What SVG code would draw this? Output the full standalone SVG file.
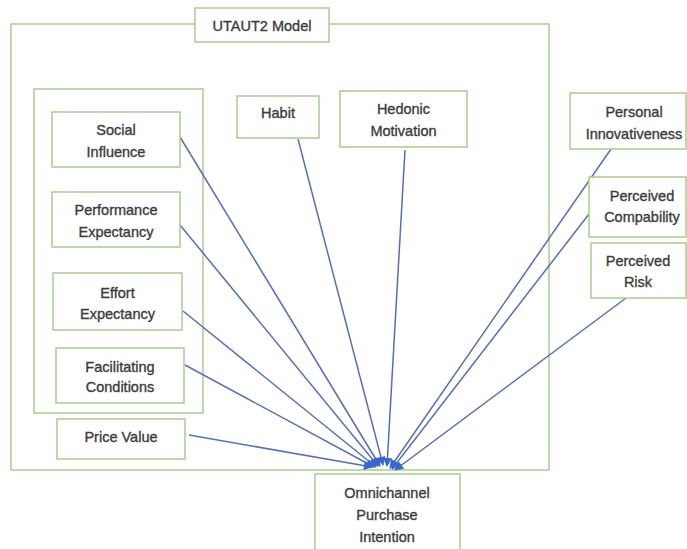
<svg xmlns="http://www.w3.org/2000/svg" width="687" height="549" viewBox="0 0 687 549">
<defs>
<marker id="ah" viewBox="0 0 10 10" refX="9" refY="5" markerWidth="7" markerHeight="6" orient="auto" markerUnits="strokeWidth">
<path d="M0,0 L10,5 L0,10 z" fill="#3a68c8"/>
</marker>
<style>
.box{fill:#ffffff;stroke:#a9cc94;stroke-width:1.5}
.frame{fill:none;stroke:#a9cc94;stroke-width:1.5}
.t{font-family:"Liberation Sans",Arial,sans-serif;font-size:14.5px;fill:#3c3c3c;stroke:#3c3c3c;stroke-width:0.35;text-anchor:middle}
.c{fill:none;stroke:#5670b2;stroke-width:1.5;marker-end:url(#ah)}
</style>
</defs>
<rect width="687" height="549" fill="#ffffff"/>
<g id="utaut2-frame">
<rect class="frame" x="11" y="24" width="538" height="446"/>
<rect class="box" x="195" y="8" width="134" height="34"/>
<text class="t" x="262" y="31">UTAUT2 Model</text>
</g>
<g id="core-group">
<rect class="frame" x="34" y="89" width="169" height="324"/>
</g>
<g id="connectors">
<line class="c" x1="180" y1="137" x2="380" y2="466"/>
<line class="c" x1="180" y1="225" x2="378" y2="466"/>
<line class="c" x1="183" y1="311" x2="376" y2="467"/>
<line class="c" x1="185" y1="365" x2="374" y2="467"/>
<line class="c" x1="189" y1="435" x2="372" y2="467"/>
<line class="c" x1="298" y1="139" x2="383" y2="465"/>
<line class="c" x1="405" y1="150" x2="387" y2="466"/>
<line class="c" x1="611" y1="149" x2="390" y2="468"/>
<line class="c" x1="589" y1="214" x2="392" y2="469"/>
<line class="c" x1="626" y1="298" x2="395" y2="470"/>
</g>
<g id="social-influence">
<rect class="box" x="52" y="112" width="128" height="55"/>
<text class="t" x="116" y="135">Social</text>
<text class="t" x="116" y="157">Influence</text>
</g>
<g id="performance-expectancy">
<rect class="box" x="52" y="192" width="128" height="55"/>
<text class="t" x="116" y="215">Performance</text>
<text class="t" x="116" y="237">Expectancy</text>
</g>
<g id="effort-expectancy">
<rect class="box" x="53" y="273" width="129" height="57"/>
<text class="t" x="117.5" y="298">Effort</text>
<text class="t" x="117.5" y="319">Expectancy</text>
</g>
<g id="facilitating-conditions">
<rect class="box" x="56" y="348" width="128" height="55"/>
<text class="t" x="120" y="372">Facilitating</text>
<text class="t" x="120" y="392">Conditions</text>
</g>
<g id="price-value">
<rect class="box" x="57" y="419" width="128" height="40"/>
<text class="t" x="121" y="442">Price Value</text>
</g>
<g id="habit">
<rect class="box" x="237" y="96" width="82" height="42"/>
<text class="t" x="278" y="118">Habit</text>
</g>
<g id="hedonic-motivation">
<rect class="box" x="340" y="91" width="127" height="56"/>
<text class="t" x="403.5" y="114">Hedonic</text>
<text class="t" x="403.5" y="136">Motivation</text>
</g>
<g id="personal-innovativeness">
<rect class="box" x="570" y="93" width="116" height="56"/>
<text class="t" x="634" y="117">Personal</text>
<text class="t" x="634" y="139">Innovativeness</text>
</g>
<g id="perceived-compability">
<rect class="box" x="589" y="177" width="97" height="60"/>
<text class="t" x="642" y="201">Perceived</text>
<text class="t" x="642" y="222">Compability</text>
</g>
<g id="perceived-risk">
<rect class="box" x="591" y="243" width="95" height="55"/>
<text class="t" x="638" y="266">Perceived</text>
<text class="t" x="638" y="287">Risk</text>
</g>
<g id="omnichannel-purchase-intention">
<rect class="box" x="315" y="474" width="145" height="80"/>
<text class="t" x="387" y="498">Omnichannel</text>
<text class="t" x="387" y="520">Purchase</text>
<text class="t" x="387" y="542">Intention</text>
</g>
</svg>
